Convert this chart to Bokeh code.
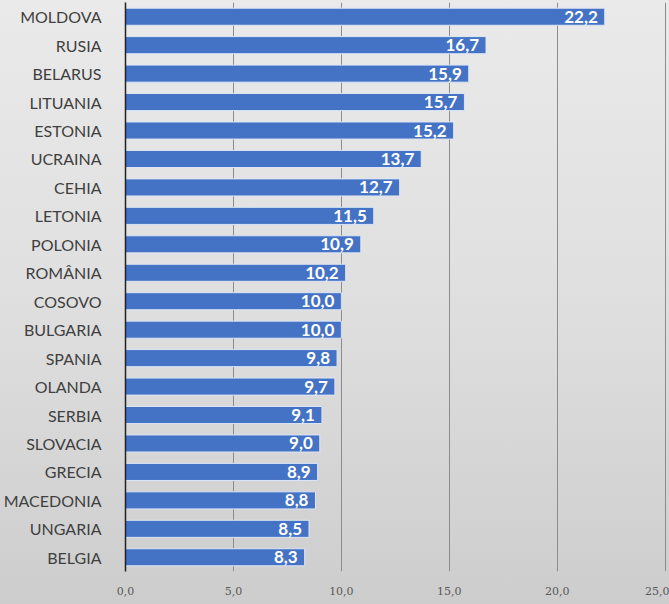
from bokeh.plotting import figure
from bokeh.models import ColumnDataSource, Range1d, FixedTicker
from bokeh.core.properties import value
from bokeh.embed import file_html
from bokeh.resources import INLINE

countries = ["MOLDOVA", "RUSIA", "BELARUS", "LITUANIA", "ESTONIA", "UCRAINA", "CEHIA",
             "LETONIA", "POLONIA", "ROMÂNIA", "COSOVO", "BULGARIA", "SPANIA", "OLANDA",
             "SERBIA", "SLOVACIA", "GRECIA", "MACEDONIA", "UNGARIA", "BELGIA"]
values = [22.2, 16.7, 15.9, 15.7, 15.2, 13.7, 12.7, 11.5, 10.9, 10.2, 10.0, 10.0,
          9.8, 9.7, 9.1, 9.0, 8.9, 8.8, 8.5, 8.3]
tick_values = [0, 5, 10, 15, 20, 25]
tick_labels = ["0,0", "5,0", "10,0", "15,0", "20,0", "25,0"]

labels = [f"{v:.1f}".replace(".", ",") for v in values]
src = ColumnDataSource(dict(country=countries, value=values, label=labels))

p = figure(width=669, height=604, y_range=list(reversed(countries)),
           x_range=Range1d(0, 25.2), output_backend="svg", toolbar_location=None,
           min_border_left=122, min_border_right=0, min_border_top=2, min_border_bottom=33)

p.styles = {"background": "linear-gradient(180deg, #eaeaea 0%, #dfdfdf 50%, #cdcdcd 100%)"}
p.background_fill_alpha = 0
p.border_fill_alpha = 0
p.outline_line_color = None

p.hbar(y="country", right="value", left=0, height=0.6, source=src,
       fill_color="#4472C4", line_color="#dce6f5", line_width=1)

p.text(x="value", y="country", text="label", source=src, x_offset=-7,
       text_align="right", text_baseline="middle", text_color="white",
       text_font=value("Lato"), text_font_style="bold", text_font_size="17px")

# axes
p.xaxis.ticker = FixedTicker(ticks=tick_values)
p.xaxis.major_label_overrides = {t: l for t, l in zip(tick_values, tick_labels)}
p.xaxis.axis_line_color = None
p.xaxis.major_tick_line_color = None
p.xaxis.minor_tick_line_color = None
p.xaxis.major_label_text_font = "DejaVu Serif"
p.xaxis.major_label_text_font_size = "11px"
p.xaxis.major_label_text_color = "#595959"
p.xaxis.major_label_standoff = 9

p.yaxis.axis_line_color = "#222222"
p.yaxis.axis_line_width = 1.5
p.yaxis.major_tick_line_color = None
p.yaxis.minor_tick_line_color = None
p.yaxis.major_label_text_font = "Lato"
p.yaxis.major_label_text_font_size = "16px"
p.yaxis.major_label_text_color = "#404040"
p.yaxis.major_label_standoff = 18

p.xgrid.ticker = FixedTicker(ticks=[5, 10, 15, 20, 25])
p.xgrid.grid_line_color = "#8c8c8c"
p.xgrid.grid_line_width = 1
p.ygrid.grid_line_color = None

open("out.html", "w").write(file_html(p, INLINE))
